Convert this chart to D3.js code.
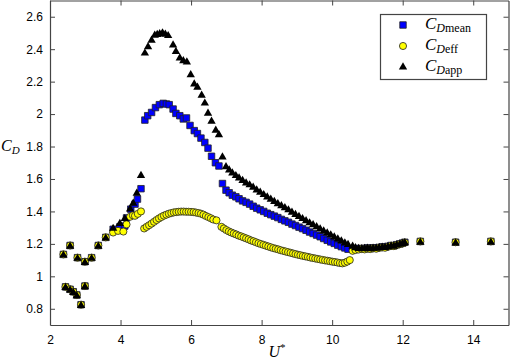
<!DOCTYPE html>
<html>
<head>
<meta charset="utf-8">
<script src="https://cdn.jsdelivr.net/npm/d3@7"></script>
<style>
  body { margin: 0; background: #fff; }
  svg { display: block; }
  .axis text { font-family: "Liberation Sans", Arial, sans-serif; font-size: 12px; fill: #000; }
  .axis path, .axis line { stroke: #444; }
</style>
</head>
<body>
<svg id="chart" width="510" height="361"></svg>
<script>
// low-U points shared by all three series
const lowU  = [2.38, 2.44, 2.57, 2.57, 2.66, 2.76, 2.78, 2.88, 2.99, 2.99, 3.18, 3.37, 3.58];
const lowCD = [1.135, 0.935, 1.19, 0.92, 0.905, 0.885, 1.115, 0.825, 1.09, 0.94, 1.115, 1.19, 1.24];

// C_D mean (squares)
const meanU = [3.79, 3.98, 4.12, 4.17, 4.29, 4.41, 4.48, 4.58,
  4.69, 4.77, 4.88, 4.99, 5.10, 5.21, 5.30, 5.38, 5.49, 5.57, 5.68, 5.78, 5.87, 5.97, 6.09, 6.18,
  6.28, 6.39, 6.48, 6.58, 6.69, 6.79,
  6.89, 6.99, 7.08, 7.17, 7.27, 7.36, 7.46, 7.56, 7.66, 7.76, 7.86, 7.96, 8.06, 8.16, 8.26, 8.36,
  8.46, 8.56, 8.66, 8.76, 8.86, 8.96, 9.06, 9.16, 9.26, 9.36, 9.46, 9.56, 9.66, 9.76, 9.86, 9.96,
  10.06, 10.16, 10.26, 10.36, 10.45];
const meanCD = [1.29, 1.305, 1.31, 1.36, 1.414, 1.445, 1.476, 1.54,
  1.963, 1.99, 2.01, 2.04, 2.058, 2.066, 2.062, 2.058, 2.031, 2.004, 1.99, 1.97, 1.976, 1.93, 1.898, 1.88,
  1.852, 1.825, 1.79, 1.74, 1.70, 1.68,
  1.572, 1.531, 1.515, 1.50, 1.49, 1.478, 1.465, 1.456, 1.445, 1.432, 1.42, 1.41, 1.40, 1.389, 1.38, 1.371,
  1.362, 1.351, 1.342, 1.333, 1.322, 1.313, 1.303, 1.294, 1.284, 1.273, 1.264, 1.254, 1.244, 1.233, 1.222, 1.212,
  1.203, 1.192, 1.183, 1.175, 1.167];

// C_D eff (circles)
const effU = [3.79, 3.93, 4.08, 4.17, 4.27, 4.35, 4.41, 4.49, 4.58,
  4.67, 4.74, 4.81, 4.88, 4.95, 5.02, 5.09, 5.16, 5.23, 5.30, 5.37, 5.44, 5.51, 5.58, 5.65, 5.72,
  5.79, 5.86, 5.93, 6.00, 6.07, 6.14, 6.21, 6.28, 6.35, 6.42, 6.49, 6.56, 6.63, 6.72,
  6.86, 6.93, 7.00, 7.07, 7.14, 7.21, 7.28, 7.35, 7.42, 7.49, 7.56, 7.63, 7.70, 7.77, 7.84, 7.91,
  7.98, 8.05, 8.12, 8.19, 8.26, 8.33, 8.40, 8.47, 8.54, 8.61, 8.68, 8.75, 8.82, 8.89, 8.96, 9.03,
  9.10, 9.17, 9.24, 9.31, 9.38, 9.45, 9.52, 9.59, 9.66, 9.73, 9.80, 9.87, 9.94, 10.01, 10.08, 10.15,
  10.22, 10.29, 10.36, 10.43, 10.50];
const effCD = [1.27, 1.28, 1.276, 1.32, 1.367, 1.376, 1.373, 1.385, 1.40,
  1.295, 1.305, 1.315, 1.325, 1.336, 1.347, 1.357, 1.366, 1.374, 1.38, 1.386, 1.39, 1.394, 1.396, 1.398, 1.399,
  1.399, 1.398, 1.398, 1.397, 1.396, 1.393, 1.39, 1.386, 1.38, 1.372, 1.365, 1.358, 1.35, 1.345,
  1.305, 1.295, 1.285, 1.277, 1.27, 1.264, 1.258, 1.251, 1.246, 1.24, 1.234, 1.228, 1.221, 1.216, 1.21, 1.204,
  1.199, 1.194, 1.189, 1.184, 1.179, 1.174, 1.17, 1.166, 1.161, 1.157, 1.153, 1.149, 1.145, 1.141, 1.137, 1.133,
  1.13, 1.126, 1.123, 1.12, 1.116, 1.113, 1.11, 1.107, 1.104, 1.101, 1.098, 1.096, 1.093, 1.09, 1.088, 1.085,
  1.082, 1.08, 1.084, 1.091, 1.10];

// C_D app (triangles)
const appU = [3.79, 3.98, 4.12, 4.27, 4.36, 4.46, 4.58,
  4.69, 4.78, 4.88, 4.97, 5.04, 5.11, 5.19, 5.27, 5.35, 5.49, 5.57, 5.68, 5.78, 5.88, 5.99, 6.09, 6.18,
  6.30, 6.39, 6.48, 6.58, 6.70, 6.79,
  6.89, 6.99, 7.08, 7.17, 7.27, 7.36, 7.46, 7.56, 7.66, 7.76, 7.86, 7.96, 8.06, 8.16, 8.26, 8.36,
  8.46, 8.56, 8.66, 8.76, 8.86, 8.96, 9.06, 9.16, 9.26, 9.36, 9.46, 9.56, 9.66, 9.76, 9.86, 9.96,
  10.06, 10.16, 10.26, 10.36, 10.45];
const appCD = [1.30, 1.33, 1.36, 1.42, 1.455, 1.517, 1.626,
  2.38, 2.42, 2.46, 2.49, 2.495, 2.50, 2.505, 2.496, 2.488, 2.43, 2.39, 2.35, 2.333, 2.325, 2.247, 2.19, 2.17,
  2.12, 2.072, 2.01, 1.96, 1.905, 1.877,
  1.74, 1.68, 1.66, 1.641, 1.625, 1.61, 1.595, 1.58, 1.568, 1.553, 1.536, 1.522, 1.508, 1.494, 1.48, 1.466,
  1.452, 1.44, 1.427, 1.414, 1.40, 1.386, 1.373, 1.36, 1.347, 1.334, 1.322, 1.31, 1.297, 1.284, 1.272, 1.26,
  1.247, 1.235, 1.223, 1.21, 1.20];

// converged tail (U > 10.5), near-identical for all three
const tailU     = [10.58, 10.66, 10.75, 10.84, 10.92, 11.00, 11.08, 11.16, 11.25, 11.33, 11.42, 11.50, 11.58, 11.67, 11.75, 11.83, 11.92, 12.00, 12.06, 12.50, 13.50, 14.50];
const tailMean  = [1.168, 1.17, 1.172, 1.17, 1.173, 1.175, 1.172, 1.176, 1.175, 1.178, 1.182, 1.18, 1.185, 1.19, 1.188, 1.195, 1.2, 1.205, 1.21, 1.215, 1.21, 1.215];
const tailEff   = [1.157, 1.162, 1.165, 1.168, 1.166, 1.17, 1.168, 1.172, 1.17, 1.175, 1.178, 1.176, 1.182, 1.188, 1.186, 1.193, 1.198, 1.203, 1.208, 1.215, 1.21, 1.215];
const tailApp   = [1.19, 1.18, 1.176, 1.174, 1.176, 1.178, 1.175, 1.178, 1.177, 1.18, 1.184, 1.182, 1.187, 1.192, 1.19, 1.197, 1.202, 1.207, 1.212, 1.215, 1.21, 1.215];

const xTicks = [2, 4, 6, 8, 10, 12, 14];
const xTickLabels = ["2", "4", "6", "8", "10", "12", "14"];
const yTicks = [0.8, 1, 1.2, 1.4, 1.6, 1.8, 2, 2.2, 2.4, 2.6];
const yTickLabels = ["0.8", "1", "1.2", "1.4", "1.6", "1.8", "2", "2.2", "2.4", "2.6"];

const zip = (us, cs) => us.map((u, i) => ({ u: u, cd: cs[i] }));
const meanData = zip(lowU.concat(meanU, tailU), lowCD.concat(meanCD, tailMean));
const effData  = zip(lowU.concat(effU, tailU), lowCD.concat(effCD, tailEff));
const appData  = zip(lowU.concat(appU, tailU), lowCD.concat(appCD, tailApp));

const margin = { left: 50, right: 508.5, top: 0.5, bottom: 325 };
const svg = d3.select("#chart");

const x = d3.scaleLinear().domain([2, 15]).range([margin.left, margin.right]);
const y = d3.scaleLinear().domain([0.7, 2.7]).range([margin.bottom, margin.top]);

// axes, ticks pointing inward on all four sides
svg.append("g").attr("class", "axis")
  .attr("transform", `translate(0,${margin.bottom})`)
  .call(d3.axisBottom(x).tickValues(xTicks).tickFormat((d, i) => xTickLabels[i])
    .tickSizeInner(-5).tickSizeOuter(0).tickPadding(10));
svg.append("g").attr("class", "axis")
  .attr("transform", `translate(0,${margin.top})`)
  .call(d3.axisTop(x).tickValues(xTicks).tickFormat("").tickSizeInner(-5).tickSizeOuter(0));
svg.append("g").attr("class", "axis")
  .attr("transform", `translate(${margin.left},0)`)
  .call(d3.axisLeft(y).tickValues(yTicks).tickFormat((d, i) => yTickLabels[i])
    .tickSizeInner(-5).tickSizeOuter(0).tickPadding(7));
svg.append("g").attr("class", "axis")
  .attr("transform", `translate(${margin.right},0)`)
  .call(d3.axisRight(y).tickValues(yTicks).tickFormat("").tickSizeInner(-5).tickSizeOuter(0));

svg.selectAll(".axis path.domain").attr("stroke-width", 1.2);

const sq = d3.symbol().type(d3.symbolSquare).size(42);
const ci = d3.symbol().type(d3.symbolCircle).size(40);
const tri = d3.symbol().type(d3.symbolTriangle).size(30);

const marks = svg.append("g");
marks.selectAll(".sq").data(meanData).join("path")
  .attr("class", "sq")
  .attr("transform", d => `translate(${x(d.u)},${y(d.cd)})`)
  .attr("d", sq)
  .attr("fill", "#0000ff").attr("stroke", "#222").attr("stroke-width", 0.8);
marks.selectAll(".ci").data(effData).join("path")
  .attr("class", "ci")
  .attr("transform", d => `translate(${x(d.u)},${y(d.cd)})`)
  .attr("d", ci)
  .attr("fill", "#ffff00").attr("stroke", "#222").attr("stroke-width", 0.8);
marks.selectAll(".tri").data(appData).join("path")
  .attr("class", "tri")
  .attr("transform", d => `translate(${x(d.u)},${y(d.cd) + 0.8})`)
  .attr("d", tri)
  .attr("fill", "#000");

// axis labels
const serif = '"Liberation Serif", "Times New Roman", serif';
const xl = svg.append("text")
  .attr("x", 277).attr("y", 357)
  .attr("text-anchor", "middle")
  .attr("font-family", serif).attr("font-size", 16);
xl.append("tspan").attr("font-style", "italic").text("U");
xl.append("tspan").attr("font-size", 11).attr("dy", -6).text("*");

const yl = svg.append("text")
  .attr("x", 1).attr("y", 151)
  .attr("font-family", serif).attr("font-size", 16);
yl.append("tspan").attr("font-style", "italic").text("C");
yl.append("tspan").attr("font-style", "italic").attr("font-size", 11).attr("dy", 3).text("D");

// legend
const legItems = [
  { name: "mean", sym: sq, fill: "#0000ff", stroke: "#222" },
  { name: "eff", sym: ci, fill: "#ffff00", stroke: "#222" },
  { name: "app", sym: tri, fill: "#000", stroke: "none" }
];
const leg = svg.append("g");
leg.append("rect")
  .attr("x", 380.5).attr("y", 14.5).attr("width", 106).attr("height", 65)
  .attr("fill", "#fff").attr("stroke", "#444").attr("stroke-width", 1.2);
legItems.forEach((it, i) => {
  const cy = 25 + i * 21;
  leg.append("path")
    .attr("transform", `translate(403,${cy})`)
    .attr("d", it.sym)
    .attr("fill", it.fill).attr("stroke", it.stroke).attr("stroke-width", 0.8);
  const t = leg.append("text")
    .attr("x", 425).attr("y", cy + 4)
    .attr("font-family", serif).attr("font-size", 17);
  t.append("tspan").attr("font-style", "italic").text("C");
  t.append("tspan").attr("font-style", "italic").attr("font-size", 12).attr("dy", 3).text("D");
  t.append("tspan").attr("font-size", 12).text(it.name);
});
</script>
</body>
</html>
